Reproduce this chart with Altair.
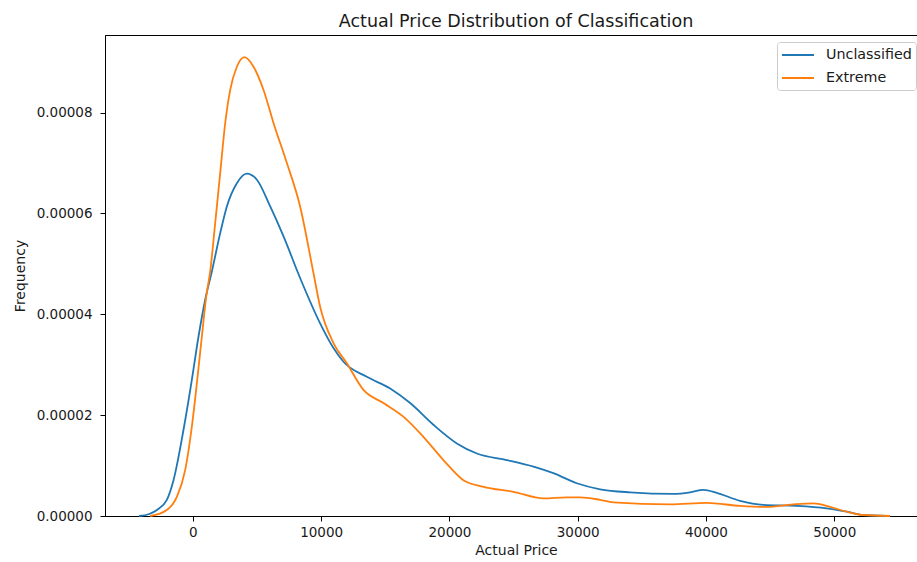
import altair as alt
import pandas as pd

# Kernel density curves of actual price, one per classification group
series_names = ["Unclassified", "Extreme"]
series_colors = ["#1f77b4", "#ff7f0e"]

unclassified_price = [-4200, -3400, -2800, -2030, -1510, -730, -80, 440, 960, 1480,
                      2130, 2650, 3430, 4200, 4990, 6030, 7060, 8360, 9920, 10960,
                      11740, 13560, 15380, 16940, 18750, 20580, 22140, 24470, 26550,
                      28100, 29930, 31750, 34080, 37460, 38760, 39800, 40840, 42660,
                      44470, 47080, 49410, 50970, 52270, 54100]
# density values in units of 1e-5
unclassified_density = [0.0, 0.04, 0.12, 0.32, 0.71, 1.71, 2.70, 3.56, 4.29, 4.85,
                        5.61, 6.14, 6.60, 6.79, 6.67, 6.14, 5.55, 4.72, 3.82, 3.33,
                        3.06, 2.76, 2.53, 2.24, 1.81, 1.44, 1.24, 1.11, 0.98,
                        0.85, 0.65, 0.53, 0.47, 0.44, 0.47, 0.52, 0.46, 0.30,
                        0.22, 0.20, 0.15, 0.085, 0.02, 0.0]

extreme_price = [-3330, -2030, -1250, -600, -80, 310, 700, 1040, 1350, 1740, 2130,
                 2520, 2910, 3430, 4020, 4730, 5510, 6290, 7330, 8360, 9400, 9920,
                 10960, 12000, 13300, 14860, 16410, 17970, 19530, 21090, 22650,
                 24990, 27330, 29150, 30190, 31750, 32780, 37200, 40060, 42660,
                 44740, 46810, 48370, 49670, 50970, 52270, 54350]
extreme_density = [0.0, 0.12, 0.38, 0.91, 1.77, 2.63, 3.56, 4.35, 4.85, 5.81, 6.80,
                   7.79, 8.45, 8.91, 9.10, 8.91, 8.45, 7.79, 7.00, 6.14, 4.82, 4.15,
                   3.43, 3.03, 2.50, 2.24, 1.97, 1.57, 1.11, 0.71, 0.58,
                   0.48, 0.35, 0.37, 0.37, 0.32, 0.27, 0.23, 0.26, 0.20,
                   0.18, 0.23, 0.25, 0.18, 0.085, 0.02, 0.0]

x_ticks = [0, 10000, 20000, 30000, 40000, 50000]
y_ticks = [0, 0.00002, 0.00004, 0.00006, 0.00008]

rows = []
for name, xs, ys in [("Unclassified", unclassified_price, unclassified_density),
                     ("Extreme", extreme_price, extreme_density)]:
    for i, (x, y) in enumerate(zip(xs, ys)):
        rows.append({"series": name, "price": x, "density": y * 1e-5, "idx": i})
df = pd.DataFrame(rows)

FONT = "DejaVu Sans"
TEXT = "#1a1a1a"

# legend swatch: a horizontal line four radii long, starting at the symbol's left edge
LEGEND_LINE = "M-1,0H3"

chart = alt.Chart(df).mark_line(strokeWidth=1.8, interpolate="monotone").encode(
    x=alt.X("price:Q",
            scale=alt.Scale(domain=[-6850, 56450], nice=False, zero=False),
            axis=alt.Axis(values=x_ticks, format="d", title="Actual Price",
                          titleX=411, titlePadding=5, labelPadding=4)),
    y=alt.Y("density:Q",
            scale=alt.Scale(domain=[0, 0.0000954], nice=False),
            axis=alt.Axis(values=y_ticks, format=".5f", title="Frequency",
                          titleX=-85, titleY=240.5, titleAlign="center",
                          titleBaseline="middle", labelPadding=8)),
    color=alt.Color("series:N",
                    scale=alt.Scale(domain=series_names, range=series_colors),
                    legend=alt.Legend(title=None, orient="none", legendX=672, legendY=7,
                                      symbolType=LEGEND_LINE, symbolSize=256,
                                      symbolStrokeWidth=2, labelFont=FONT,
                                      labelFontSize=14.3, labelColor=TEXT,
                                      labelOffset=27, fillColor="white",
                                      strokeColor="#cccccc", cornerRadius=3,
                                      padding=4, rowPadding=6)),
    order="idx:Q",
).properties(
    width=812,
    height=481,
    autosize=alt.AutoSizeParams(type="none"),
    padding={"left": 105, "top": 35, "right": 0, "bottom": 46},
    title=alt.Title("Actual Price Distribution of Classification", font=FONT,
                    fontSize=17.5, fontWeight="normal", color=TEXT, anchor="middle",
                    baseline="alphabetic", offset=8, dx=5, dy=17),
).configure_axis(
    grid=False, domainColor="black", domainWidth=1, tickColor="black",
    tickWidth=1, tickSize=5, labelFont=FONT, labelFontSize=13.5, labelColor=TEXT,
    titleFont=FONT, titleFontSize=14, titleFontWeight="normal", titleColor=TEXT,
).configure_view(
    stroke="black", strokeWidth=1,
)

chart.save("out.html", embed_options={"renderer": "svg", "actions": False})
